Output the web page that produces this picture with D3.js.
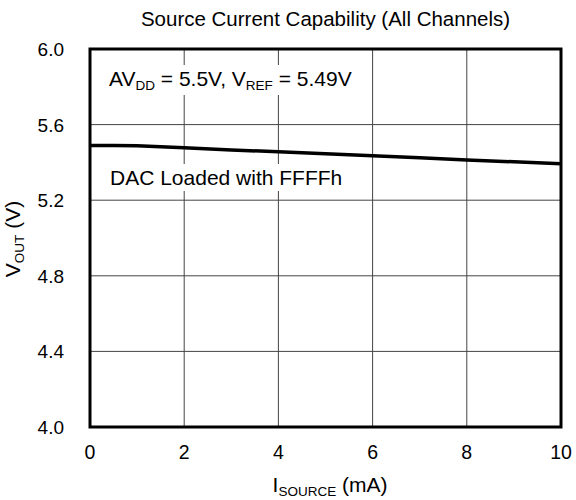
<!DOCTYPE html>
<html>
<head>
  <meta charset="utf-8">
  <style>
  body { margin: 0; background: #fff; }
  text { font-family: Arial, "Liberation Sans", sans-serif; fill: #000; }
  .grid line { stroke: #444; stroke-width: 1; }
  </style>
</head>
<body>
<svg width="576" height="500"></svg>
<script src="https://d3js.org/d3.v7.min.js"></script>
<script>

var currents = [0, 0.5, 1, 2, 3, 4, 5, 6, 7, 8, 9, 10];
var vout = [5.49, 5.49, 5.488, 5.477, 5.466, 5.456, 5.446, 5.435, 5.424, 5.413, 5.403, 5.393];
var xTicks = [0, 2, 4, 6, 8, 10];
var yTicks = [4.0, 4.4, 4.8, 5.2, 5.6, 6.0];

var svg = d3.select("svg");
var pLeft = 90, pRight = 561, pTop = 49, pBottom = 427;
var SUB = "13.5px";

var x = d3.scaleLinear().domain([0, 10]).range([pLeft, pRight]);
var y = d3.scaleLinear().domain([4.0, 6.0]).range([pBottom, pTop]);

var grid = svg.append("g").attr("class", "grid");
grid.selectAll(".v").data(xTicks.slice(1, -1)).enter().append("line")
    .attr("x1", d => x(d)).attr("x2", d => x(d))
    .attr("y1", pTop).attr("y2", pBottom);
grid.selectAll(".h").data(yTicks.slice(1, -1)).enter().append("line")
    .attr("x1", pLeft).attr("x2", pRight)
    .attr("y1", d => y(d)).attr("y2", d => y(d));

// text with subscripts: parts = [text, isSub]
function subText(g, parts, size) {
  var t = g.append("text").style("font-size", size);
  var wasSub = false;
  parts.forEach(function(p) {
    var s = t.append("tspan").text(p[0]);
    if (p[1]) { s.style("font-size", SUB).attr("dy", 4); wasSub = true; }
    else if (wasSub) { s.attr("dy", -4); wasSub = false; }
  });
  return t;
}

// annotations with white backing so the grid breaks behind them
var ann = svg.append("g");
var t1 = subText(ann, [["AV"], ["DD", 1], [" = 5.5V, V"], ["REF", 1], [" = 5.49V"]], "21px")
    .attr("x", 109).attr("y", 86);
var t2 = subText(ann, [["DAC Loaded with FFFFh"]], "21px")
    .attr("x", 110).attr("y", 185);
[t1, t2].forEach(function(t) {
  var b = t.node().getBBox();
  ann.insert("rect", "text").attr("x", b.x - 4).attr("y", b.y - 2)
    .attr("width", b.width + 8).attr("height", b.height + 4).attr("fill", "#fff");
});

svg.append("path")
    .datum(d3.zip(currents, vout))
    .attr("fill", "none").attr("stroke", "#000").attr("stroke-width", 3.5)
    .attr("d", d3.line().x(d => x(d[0])).y(d => y(d[1])));

svg.append("rect").attr("x", pLeft).attr("y", pTop)
    .attr("width", pRight - pLeft).attr("height", pBottom - pTop)
    .attr("fill", "none").attr("stroke", "#000").attr("stroke-width", 3);

svg.selectAll(".xt").data(xTicks).enter().append("text")
    .attr("x", d => x(d)).attr("y", 459).attr("text-anchor", "middle")
    .style("font-size", "19.5px").text(d => d);
svg.selectAll(".yt").data(yTicks).enter().append("text")
    .attr("x", 64).attr("y", d => y(d) + 7).attr("text-anchor", "end")
    .style("font-size", "19px").text(d => d.toFixed(1));

svg.append("text").attr("x", (pLeft + pRight) / 2).attr("y", 26).attr("text-anchor", "middle")
    .style("font-size", "20.5px").text("Source Current Capability (All Channels)");

subText(svg, [["I"], ["SOURCE", 1], [" (mA)"]], "21px")
    .attr("x", 330).attr("y", 492).attr("text-anchor", "middle");

subText(svg, [["V"], ["OUT", 1], [" (V)"]], "21px")
    .attr("text-anchor", "middle")
    .attr("transform", "translate(19.5,239) rotate(-90)");

</script>
</body>
</html>
